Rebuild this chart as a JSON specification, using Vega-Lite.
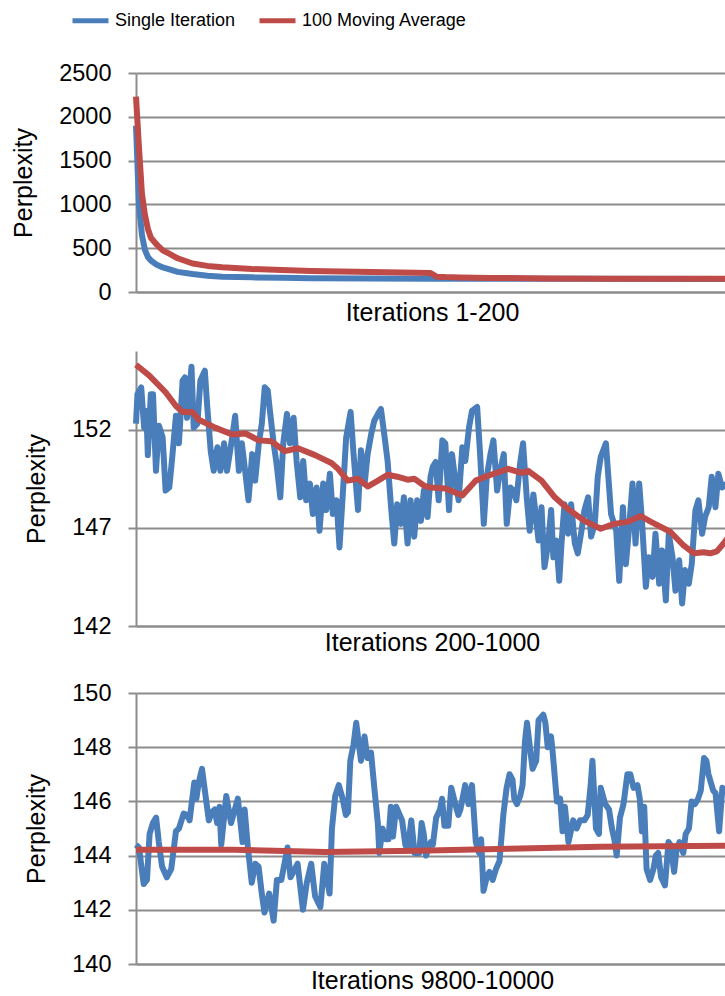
{
  "$schema": "https://vega.github.io/schema/vega-lite/v6.json",
  "padding": {"left": 11, "top": 0, "right": 0, "bottom": 0},
  "spacing": 26,
  "datasets": {
    "p1": [
      {"iter":1,"series":"Single Iteration","perplexity":1900},{"iter":2,"series":"Single Iteration","perplexity":1000},{"iter":3,"series":"Single Iteration","perplexity":650},{"iter":4,"series":"Single Iteration","perplexity":480},{"iter":5,"series":"Single Iteration","perplexity":400},{"iter":6,"series":"Single Iteration","perplexity":360},{"iter":8,"series":"Single Iteration","perplexity":310},{"iter":10,"series":"Single Iteration","perplexity":280},{"iter":12,"series":"Single Iteration","perplexity":260},{"iter":15,"series":"Single Iteration","perplexity":230},{"iter":20,"series":"Single Iteration","perplexity":205},{"iter":25,"series":"Single Iteration","perplexity":185},{"iter":30,"series":"Single Iteration","perplexity":175},{"iter":40,"series":"Single Iteration","perplexity":167},{"iter":50,"series":"Single Iteration","perplexity":162},{"iter":60,"series":"Single Iteration","perplexity":158},{"iter":80,"series":"Single Iteration","perplexity":155},{"iter":100,"series":"Single Iteration","perplexity":152},{"iter":101,"series":"Single Iteration","perplexity":150},{"iter":120,"series":"Single Iteration","perplexity":150},{"iter":150,"series":"Single Iteration","perplexity":150},{"iter":200,"series":"Single Iteration","perplexity":149},
      {"iter":1,"series":"100 Moving Average","perplexity":2230},{"iter":2,"series":"100 Moving Average","perplexity":1650},{"iter":3,"series":"100 Moving Average","perplexity":1120},{"iter":4,"series":"100 Moving Average","perplexity":880},{"iter":5,"series":"100 Moving Average","perplexity":720},{"iter":6,"series":"100 Moving Average","perplexity":620},{"iter":8,"series":"100 Moving Average","perplexity":540},{"iter":10,"series":"100 Moving Average","perplexity":475},{"iter":12,"series":"100 Moving Average","perplexity":440},{"iter":15,"series":"100 Moving Average","perplexity":385},{"iter":20,"series":"100 Moving Average","perplexity":325},{"iter":25,"series":"100 Moving Average","perplexity":298},{"iter":30,"series":"100 Moving Average","perplexity":282},{"iter":40,"series":"100 Moving Average","perplexity":262},{"iter":50,"series":"100 Moving Average","perplexity":250},{"iter":60,"series":"100 Moving Average","perplexity":240},{"iter":70,"series":"100 Moving Average","perplexity":233},{"iter":80,"series":"100 Moving Average","perplexity":227},{"iter":90,"series":"100 Moving Average","perplexity":222},{"iter":100,"series":"100 Moving Average","perplexity":217},{"iter":102,"series":"100 Moving Average","perplexity":175},{"iter":105,"series":"100 Moving Average","perplexity":170},{"iter":110,"series":"100 Moving Average","perplexity":166},{"iter":120,"series":"100 Moving Average","perplexity":161},{"iter":140,"series":"100 Moving Average","perplexity":155},{"iter":160,"series":"100 Moving Average","perplexity":152},{"iter":200,"series":"100 Moving Average","perplexity":151}
    ],
    "p2": [
      {"iter":200,"series":"Single Iteration","perplexity":152.3},{"iter":202,"series":"Single Iteration","perplexity":153.8},{"iter":207,"series":"Single Iteration","perplexity":154.15},{"iter":211,"series":"Single Iteration","perplexity":152.1},{"iter":214,"series":"Single Iteration","perplexity":152.95},{"iter":216,"series":"Single Iteration","perplexity":150.7},{"iter":220,"series":"Single Iteration","perplexity":153.8},{"iter":223,"series":"Single Iteration","perplexity":153.8},{"iter":227,"series":"Single Iteration","perplexity":149.9},{"iter":231,"series":"Single Iteration","perplexity":152.2},{"iter":236,"series":"Single Iteration","perplexity":151.6},{"iter":240,"series":"Single Iteration","perplexity":148.9},{"iter":245,"series":"Single Iteration","perplexity":149.05},{"iter":249,"series":"Single Iteration","perplexity":150.6},{"iter":254,"series":"Single Iteration","perplexity":152.7},{"iter":258,"series":"Single Iteration","perplexity":151.3},{"iter":263,"series":"Single Iteration","perplexity":154.5},{"iter":266,"series":"Single Iteration","perplexity":154.65},{"iter":269,"series":"Single Iteration","perplexity":152.6},{"iter":275,"series":"Single Iteration","perplexity":155.2},{"iter":278,"series":"Single Iteration","perplexity":152.1},{"iter":283,"series":"Single Iteration","perplexity":152.3},{"iter":287,"series":"Single Iteration","perplexity":154.5},{"iter":293,"series":"Single Iteration","perplexity":155.0},{"iter":296,"series":"Single Iteration","perplexity":153.3},{"iter":301,"series":"Single Iteration","perplexity":150.9},{"iter":305,"series":"Single Iteration","perplexity":149.9},{"iter":310,"series":"Single Iteration","perplexity":151.1},{"iter":314,"series":"Single Iteration","perplexity":149.9},{"iter":319,"series":"Single Iteration","perplexity":151.3},{"iter":323,"series":"Single Iteration","perplexity":149.9},{"iter":330,"series":"Single Iteration","perplexity":151.6},{"iter":334,"series":"Single Iteration","perplexity":152.7},{"iter":339,"series":"Single Iteration","perplexity":149.9},{"iter":343,"series":"Single Iteration","perplexity":151.3},{"iter":348,"series":"Single Iteration","perplexity":149.75},{"iter":352,"series":"Single Iteration","perplexity":148.4},{"iter":357,"series":"Single Iteration","perplexity":150.75},{"iter":361,"series":"Single Iteration","perplexity":149.4},{"iter":366,"series":"Single Iteration","perplexity":151.3},{"iter":370,"series":"Single Iteration","perplexity":152.3},{"iter":374,"series":"Single Iteration","perplexity":154.15},{"iter":378,"series":"Single Iteration","perplexity":154.0},{"iter":381,"series":"Single Iteration","perplexity":152.95},{"iter":386,"series":"Single Iteration","perplexity":151.3},{"iter":390,"series":"Single Iteration","perplexity":150.25},{"iter":395,"series":"Single Iteration","perplexity":148.55},{"iter":399,"series":"Single Iteration","perplexity":151.3},{"iter":404,"series":"Single Iteration","perplexity":152.8},{"iter":408,"series":"Single Iteration","perplexity":151.3},{"iter":413,"series":"Single Iteration","perplexity":152.6},{"iter":417,"series":"Single Iteration","perplexity":150.4},{"iter":422,"series":"Single Iteration","perplexity":148.55},{"iter":426,"series":"Single Iteration","perplexity":150.4},{"iter":430,"series":"Single Iteration","perplexity":148.4},{"iter":435,"series":"Single Iteration","perplexity":149.25},{"iter":439,"series":"Single Iteration","perplexity":147.7},{"iter":444,"series":"Single Iteration","perplexity":149.05},{"iter":448,"series":"Single Iteration","perplexity":146.85},{"iter":453,"series":"Single Iteration","perplexity":149.25},{"iter":457,"series":"Single Iteration","perplexity":147.9},{"iter":462,"series":"Single Iteration","perplexity":149.75},{"iter":466,"series":"Single Iteration","perplexity":147.7},{"iter":471,"series":"Single Iteration","perplexity":148.4},{"iter":475,"series":"Single Iteration","perplexity":146.0},{"iter":480,"series":"Single Iteration","perplexity":149.05},{"iter":484,"series":"Single Iteration","perplexity":151.6},{"iter":490,"series":"Single Iteration","perplexity":152.9},{"iter":494,"series":"Single Iteration","perplexity":150.75},{"iter":500,"series":"Single Iteration","perplexity":147.9},{"iter":504,"series":"Single Iteration","perplexity":150.95},{"iter":509,"series":"Single Iteration","perplexity":149.25},{"iter":513,"series":"Single Iteration","perplexity":150.75},{"iter":518,"series":"Single Iteration","perplexity":151.8},{"iter":522,"series":"Single Iteration","perplexity":152.45},{"iter":527,"series":"Single Iteration","perplexity":152.8},{"iter":531,"series":"Single Iteration","perplexity":153.05},{"iter":536,"series":"Single Iteration","perplexity":151.6},{"iter":540,"series":"Single Iteration","perplexity":150.4},{"iter":545,"series":"Single Iteration","perplexity":147.9},{"iter":549,"series":"Single Iteration","perplexity":146.2},{"iter":553,"series":"Single Iteration","perplexity":148.2},{"iter":558,"series":"Single Iteration","perplexity":147.2},{"iter":562,"series":"Single Iteration","perplexity":148.55},{"iter":567,"series":"Single Iteration","perplexity":146.2},{"iter":571,"series":"Single Iteration","perplexity":148.4},{"iter":576,"series":"Single Iteration","perplexity":146.55},{"iter":580,"series":"Single Iteration","perplexity":148.4},{"iter":585,"series":"Single Iteration","perplexity":147.35},{"iter":589,"series":"Single Iteration","perplexity":148.9},{"iter":594,"series":"Single Iteration","perplexity":147.55},{"iter":598,"series":"Single Iteration","perplexity":149.6},{"iter":601,"series":"Single Iteration","perplexity":150.1},{"iter":605,"series":"Single Iteration","perplexity":150.35},{"iter":609,"series":"Single Iteration","perplexity":148.4},{"iter":614,"series":"Single Iteration","perplexity":151.45},{"iter":618,"series":"Single Iteration","perplexity":151.3},{"iter":623,"series":"Single Iteration","perplexity":147.9},{"iter":627,"series":"Single Iteration","perplexity":150.75},{"iter":632,"series":"Single Iteration","perplexity":149.25},{"iter":636,"series":"Single Iteration","perplexity":148.4},{"iter":641,"series":"Single Iteration","perplexity":151.1},{"iter":645,"series":"Single Iteration","perplexity":150.4},{"iter":650,"series":"Single Iteration","perplexity":152.1},{"iter":654,"series":"Single Iteration","perplexity":152.95},{"iter":661,"series":"Single Iteration","perplexity":153.15},{"iter":665,"series":"Single Iteration","perplexity":150.75},{"iter":670,"series":"Single Iteration","perplexity":147.2},{"iter":674,"series":"Single Iteration","perplexity":149.6},{"iter":679,"series":"Single Iteration","perplexity":150.75},{"iter":683,"series":"Single Iteration","perplexity":151.45},{"iter":688,"series":"Single Iteration","perplexity":148.9},{"iter":692,"series":"Single Iteration","perplexity":149.9},{"iter":697,"series":"Single Iteration","perplexity":150.75},{"iter":701,"series":"Single Iteration","perplexity":147.2},{"iter":706,"series":"Single Iteration","perplexity":149.05},{"iter":710,"series":"Single Iteration","perplexity":148.9},{"iter":714,"series":"Single Iteration","perplexity":148.4},{"iter":719,"series":"Single Iteration","perplexity":150.25},{"iter":723,"series":"Single Iteration","perplexity":151.3},{"iter":728,"series":"Single Iteration","perplexity":148.55},{"iter":732,"series":"Single Iteration","perplexity":146.85},{"iter":737,"series":"Single Iteration","perplexity":148.7},{"iter":744,"series":"Single Iteration","perplexity":146.35},{"iter":748,"series":"Single Iteration","perplexity":148.05},{"iter":752,"series":"Single Iteration","perplexity":145.0},{"iter":757,"series":"Single Iteration","perplexity":146.2},{"iter":761,"series":"Single Iteration","perplexity":147.9},{"iter":764,"series":"Single Iteration","perplexity":145.5},{"iter":768,"series":"Single Iteration","perplexity":146.35},{"iter":772,"series":"Single Iteration","perplexity":144.3},{"iter":775,"series":"Single Iteration","perplexity":146.2},{"iter":779,"series":"Single Iteration","perplexity":148.2},{"iter":784,"series":"Single Iteration","perplexity":146.7},{"iter":788,"series":"Single Iteration","perplexity":148.2},{"iter":793,"series":"Single Iteration","perplexity":146.2},{"iter":797,"series":"Single Iteration","perplexity":145.7},{"iter":802,"series":"Single Iteration","perplexity":146.85},{"iter":806,"series":"Single Iteration","perplexity":147.9},{"iter":811,"series":"Single Iteration","perplexity":148.55},{"iter":815,"series":"Single Iteration","perplexity":146.55},{"iter":820,"series":"Single Iteration","perplexity":147.2},{"iter":824,"series":"Single Iteration","perplexity":149.6},{"iter":828,"series":"Single Iteration","perplexity":150.6},{"iter":835,"series":"Single Iteration","perplexity":151.3},{"iter":842,"series":"Single Iteration","perplexity":147.7},{"iter":849,"series":"Single Iteration","perplexity":146.85},{"iter":853,"series":"Single Iteration","perplexity":144.3},{"iter":858,"series":"Single Iteration","perplexity":148.05},{"iter":862,"series":"Single Iteration","perplexity":145.15},{"iter":866,"series":"Single Iteration","perplexity":146.85},{"iter":871,"series":"Single Iteration","perplexity":149.25},{"iter":875,"series":"Single Iteration","perplexity":146.2},{"iter":880,"series":"Single Iteration","perplexity":149.25},{"iter":884,"series":"Single Iteration","perplexity":147.2},{"iter":889,"series":"Single Iteration","perplexity":144.0},{"iter":893,"series":"Single Iteration","perplexity":145.5},{"iter":898,"series":"Single Iteration","perplexity":144.5},{"iter":902,"series":"Single Iteration","perplexity":146.7},{"iter":907,"series":"Single Iteration","perplexity":144.15},{"iter":911,"series":"Single Iteration","perplexity":145.85},{"iter":916,"series":"Single Iteration","perplexity":143.3},{"iter":920,"series":"Single Iteration","perplexity":146.7},{"iter":925,"series":"Single Iteration","perplexity":145.5},{"iter":929,"series":"Single Iteration","perplexity":143.8},{"iter":934,"series":"Single Iteration","perplexity":145.35},{"iter":938,"series":"Single Iteration","perplexity":143.15},{"iter":942,"series":"Single Iteration","perplexity":144.85},{"iter":947,"series":"Single Iteration","perplexity":144.15},{"iter":951,"series":"Single Iteration","perplexity":145.15},{"iter":956,"series":"Single Iteration","perplexity":147.9},{"iter":960,"series":"Single Iteration","perplexity":148.4},{"iter":965,"series":"Single Iteration","perplexity":146.7},{"iter":969,"series":"Single Iteration","perplexity":147.55},{"iter":974,"series":"Single Iteration","perplexity":148.05},{"iter":978,"series":"Single Iteration","perplexity":149.6},{"iter":983,"series":"Single Iteration","perplexity":148.05},{"iter":987,"series":"Single Iteration","perplexity":149.75},{"iter":992,"series":"Single Iteration","perplexity":149.05},{"iter":1000,"series":"Single Iteration","perplexity":149.3},
      {"iter":200,"series":"100 Moving Average","perplexity":155.3},{"iter":218,"series":"100 Moving Average","perplexity":154.75},{"iter":240,"series":"100 Moving Average","perplexity":153.9},{"iter":254,"series":"100 Moving Average","perplexity":153.2},{"iter":263,"series":"100 Moving Average","perplexity":152.9},{"iter":276,"series":"100 Moving Average","perplexity":152.9},{"iter":285,"series":"100 Moving Average","perplexity":152.5},{"iter":307,"series":"100 Moving Average","perplexity":152.1},{"iter":330,"series":"100 Moving Average","perplexity":151.75},{"iter":348,"series":"100 Moving Average","perplexity":151.8},{"iter":366,"series":"100 Moving Average","perplexity":151.45},{"iter":383,"series":"100 Moving Average","perplexity":151.4},{"iter":401,"series":"100 Moving Average","perplexity":150.9},{"iter":419,"series":"100 Moving Average","perplexity":151.05},{"iter":442,"series":"100 Moving Average","perplexity":150.7},{"iter":464,"series":"100 Moving Average","perplexity":150.3},{"iter":473,"series":"100 Moving Average","perplexity":150.0},{"iter":486,"series":"100 Moving Average","perplexity":149.4},{"iter":500,"series":"100 Moving Average","perplexity":149.5},{"iter":513,"series":"100 Moving Average","perplexity":149.1},{"iter":527,"series":"100 Moving Average","perplexity":149.4},{"iter":540,"series":"100 Moving Average","perplexity":149.7},{"iter":553,"series":"100 Moving Average","perplexity":149.6},{"iter":567,"series":"100 Moving Average","perplexity":149.45},{"iter":576,"series":"100 Moving Average","perplexity":149.5},{"iter":589,"series":"100 Moving Average","perplexity":149.15},{"iter":598,"series":"100 Moving Average","perplexity":149.05},{"iter":618,"series":"100 Moving Average","perplexity":149.0},{"iter":641,"series":"100 Moving Average","perplexity":148.65},{"iter":659,"series":"100 Moving Average","perplexity":149.4},{"iter":672,"series":"100 Moving Average","perplexity":149.6},{"iter":703,"series":"100 Moving Average","perplexity":150.0},{"iter":721,"series":"100 Moving Average","perplexity":149.8},{"iter":730,"series":"100 Moving Average","perplexity":149.9},{"iter":748,"series":"100 Moving Average","perplexity":149.4},{"iter":766,"series":"100 Moving Average","perplexity":148.55},{"iter":784,"series":"100 Moving Average","perplexity":147.95},{"iter":806,"series":"100 Moving Average","perplexity":147.35},{"iter":828,"series":"100 Moving Average","perplexity":146.95},{"iter":846,"series":"100 Moving Average","perplexity":147.2},{"iter":864,"series":"100 Moving Average","perplexity":147.3},{"iter":882,"series":"100 Moving Average","perplexity":147.6},{"iter":896,"series":"100 Moving Average","perplexity":147.3},{"iter":922,"series":"100 Moving Average","perplexity":146.8},{"iter":940,"series":"100 Moving Average","perplexity":146.1},{"iter":954,"series":"100 Moving Average","perplexity":145.7},{"iter":967,"series":"100 Moving Average","perplexity":145.75},{"iter":976,"series":"100 Moving Average","perplexity":145.7},{"iter":985,"series":"100 Moving Average","perplexity":145.8},{"iter":994,"series":"100 Moving Average","perplexity":146.2},{"iter":1000,"series":"100 Moving Average","perplexity":146.5}
    ],
    "p3": [
      {"iter":9800.0,"series":"Single Iteration","perplexity":144.4},{"iter":9801.0,"series":"Single Iteration","perplexity":144.3},{"iter":9802.6,"series":"Single Iteration","perplexity":142.95},{"iter":9803.7,"series":"Single Iteration","perplexity":143.1},{"iter":9804.6,"series":"Single Iteration","perplexity":144.8},{"iter":9805.7,"series":"Single Iteration","perplexity":145.2},{"iter":9806.8,"series":"Single Iteration","perplexity":145.4},{"iter":9807.7,"series":"Single Iteration","perplexity":144.5},{"iter":9808.8,"series":"Single Iteration","perplexity":143.6},{"iter":9810.4,"series":"Single Iteration","perplexity":143.2},{"iter":9811.9,"series":"Single Iteration","perplexity":143.5},{"iter":9813.5,"series":"Single Iteration","perplexity":144.9},{"iter":9814.5,"series":"Single Iteration","perplexity":145.0},{"iter":9816.1,"series":"Single Iteration","perplexity":145.55},{"iter":9817.3,"series":"Single Iteration","perplexity":145.5},{"iter":9818.1,"series":"Single Iteration","perplexity":145.3},{"iter":9819.7,"series":"Single Iteration","perplexity":146.7},{"iter":9820.4,"series":"Single Iteration","perplexity":146.1},{"iter":9821.2,"series":"Single Iteration","perplexity":146.7},{"iter":9822.3,"series":"Single Iteration","perplexity":147.2},{"iter":9823.5,"series":"Single Iteration","perplexity":146.2},{"iter":9824.6,"series":"Single Iteration","perplexity":145.3},{"iter":9825.6,"series":"Single Iteration","perplexity":145.6},{"iter":9826.6,"series":"Single Iteration","perplexity":145.7},{"iter":9827.4,"series":"Single Iteration","perplexity":145.2},{"iter":9828.2,"series":"Single Iteration","perplexity":145.8},{"iter":9828.8,"series":"Single Iteration","perplexity":144.4},{"iter":9830.5,"series":"Single Iteration","perplexity":146.2},{"iter":9832.1,"series":"Single Iteration","perplexity":145.2},{"iter":9834.4,"series":"Single Iteration","perplexity":146.1},{"iter":9836.0,"series":"Single Iteration","perplexity":144.5},{"iter":9836.7,"series":"Single Iteration","perplexity":145.7},{"iter":9837.8,"series":"Single Iteration","perplexity":144.3},{"iter":9839.1,"series":"Single Iteration","perplexity":143.0},{"iter":9840.3,"series":"Single Iteration","perplexity":143.7},{"iter":9841.4,"series":"Single Iteration","perplexity":143.6},{"iter":9842.5,"series":"Single Iteration","perplexity":142.6},{"iter":9843.4,"series":"Single Iteration","perplexity":141.9},{"iter":9845.0,"series":"Single Iteration","perplexity":142.6},{"iter":9846.5,"series":"Single Iteration","perplexity":141.6},{"iter":9847.6,"series":"Single Iteration","perplexity":143.1},{"iter":9849.1,"series":"Single Iteration","perplexity":143.1},{"iter":9851.2,"series":"Single Iteration","perplexity":144.3},{"iter":9852.2,"series":"Single Iteration","perplexity":143.2},{"iter":9854.6,"series":"Single Iteration","perplexity":143.7},{"iter":9856.4,"series":"Single Iteration","perplexity":142.0},{"iter":9857.7,"series":"Single Iteration","perplexity":143.0},{"iter":9859.2,"series":"Single Iteration","perplexity":143.7},{"iter":9860.5,"series":"Single Iteration","perplexity":142.5},{"iter":9862.3,"series":"Single Iteration","perplexity":142.1},{"iter":9863.6,"series":"Single Iteration","perplexity":143.7},{"iter":9865.4,"series":"Single Iteration","perplexity":142.6},{"iter":9866.2,"series":"Single Iteration","perplexity":145.0},{"iter":9867.3,"series":"Single Iteration","perplexity":146.2},{"iter":9868.5,"series":"Single Iteration","perplexity":146.6},{"iter":9869.8,"series":"Single Iteration","perplexity":146.1},{"iter":9870.9,"series":"Single Iteration","perplexity":145.5},{"iter":9871.6,"series":"Single Iteration","perplexity":145.6},{"iter":9872.4,"series":"Single Iteration","perplexity":147.5},{"iter":9873.5,"series":"Single Iteration","perplexity":148.1},{"iter":9874.4,"series":"Single Iteration","perplexity":148.9},{"iter":9876.0,"series":"Single Iteration","perplexity":147.5},{"iter":9877.2,"series":"Single Iteration","perplexity":148.4},{"iter":9878.2,"series":"Single Iteration","perplexity":147.6},{"iter":9879.4,"series":"Single Iteration","perplexity":147.8},{"iter":9880.6,"series":"Single Iteration","perplexity":146.4},{"iter":9881.7,"series":"Single Iteration","perplexity":145.2},{"iter":9882.2,"series":"Single Iteration","perplexity":144.1},{"iter":9883.3,"series":"Single Iteration","perplexity":145.0},{"iter":9884.4,"series":"Single Iteration","perplexity":144.6},{"iter":9885.3,"series":"Single Iteration","perplexity":144.6},{"iter":9886.1,"series":"Single Iteration","perplexity":145.8},{"iter":9886.8,"series":"Single Iteration","perplexity":144.7},{"iter":9887.9,"series":"Single Iteration","perplexity":145.8},{"iter":9889.9,"series":"Single Iteration","perplexity":145.3},{"iter":9891.0,"series":"Single Iteration","perplexity":144.4},{"iter":9891.8,"series":"Single Iteration","perplexity":144.2},{"iter":9893.0,"series":"Single Iteration","perplexity":145.3},{"iter":9894.1,"series":"Single Iteration","perplexity":144.1},{"iter":9895.7,"series":"Single Iteration","perplexity":144.1},{"iter":9896.5,"series":"Single Iteration","perplexity":145.2},{"iter":9897.2,"series":"Single Iteration","perplexity":144.8},{"iter":9898.0,"series":"Single Iteration","perplexity":144.0},{"iter":9899.6,"series":"Single Iteration","perplexity":144.5},{"iter":9900.3,"series":"Single Iteration","perplexity":144.4},{"iter":9901.4,"series":"Single Iteration","perplexity":145.4},{"iter":9902.7,"series":"Single Iteration","perplexity":145.7},{"iter":9903.4,"series":"Single Iteration","perplexity":146.1},{"iter":9904.2,"series":"Single Iteration","perplexity":145.1},{"iter":9905.5,"series":"Single Iteration","perplexity":145.1},{"iter":9906.5,"series":"Single Iteration","perplexity":146.5},{"iter":9908.1,"series":"Single Iteration","perplexity":145.8},{"iter":9908.9,"series":"Single Iteration","perplexity":145.5},{"iter":9909.6,"series":"Single Iteration","perplexity":145.7},{"iter":9911.2,"series":"Single Iteration","perplexity":146.6},{"iter":9912.3,"series":"Single Iteration","perplexity":145.9},{"iter":9913.5,"series":"Single Iteration","perplexity":146.6},{"iter":9914.8,"series":"Single Iteration","perplexity":144.5},{"iter":9915.9,"series":"Single Iteration","perplexity":144.1},{"iter":9916.6,"series":"Single Iteration","perplexity":144.6},{"iter":9917.4,"series":"Single Iteration","perplexity":142.7},{"iter":9918.5,"series":"Single Iteration","perplexity":143.2},{"iter":9919.4,"series":"Single Iteration","perplexity":143.4},{"iter":9920.5,"series":"Single Iteration","perplexity":143.1},{"iter":9921.6,"series":"Single Iteration","perplexity":143.5},{"iter":9922.8,"series":"Single Iteration","perplexity":143.8},{"iter":9924.1,"series":"Single Iteration","perplexity":145.5},{"iter":9925.2,"series":"Single Iteration","perplexity":146.5},{"iter":9926.2,"series":"Single Iteration","perplexity":147.0},{"iter":9927.2,"series":"Single Iteration","perplexity":146.8},{"iter":9927.8,"series":"Single Iteration","perplexity":146.1},{"iter":9928.7,"series":"Single Iteration","perplexity":145.9},{"iter":9929.8,"series":"Single Iteration","perplexity":146.2},{"iter":9930.6,"series":"Single Iteration","perplexity":146.6},{"iter":9931.4,"series":"Single Iteration","perplexity":148.2},{"iter":9932.1,"series":"Single Iteration","perplexity":148.9},{"iter":9933.4,"series":"Single Iteration","perplexity":147.7},{"iter":9934.0,"series":"Single Iteration","perplexity":147.2},{"iter":9935.2,"series":"Single Iteration","perplexity":147.5},{"iter":9936.0,"series":"Single Iteration","perplexity":149.0},{"iter":9937.6,"series":"Single Iteration","perplexity":149.2},{"iter":9938.3,"series":"Single Iteration","perplexity":148.9},{"iter":9939.1,"series":"Single Iteration","perplexity":148.0},{"iter":9940.2,"series":"Single Iteration","perplexity":148.4},{"iter":9940.7,"series":"Single Iteration","perplexity":147.9},{"iter":9942.2,"series":"Single Iteration","perplexity":146.0},{"iter":9943.3,"series":"Single Iteration","perplexity":146.1},{"iter":9944.1,"series":"Single Iteration","perplexity":144.9},{"iter":9944.9,"series":"Single Iteration","perplexity":145.8},{"iter":9946.1,"series":"Single Iteration","perplexity":144.5},{"iter":9947.7,"series":"Single Iteration","perplexity":145.3},{"iter":9948.9,"series":"Single Iteration","perplexity":145.0},{"iter":9950.0,"series":"Single Iteration","perplexity":145.3},{"iter":9951.5,"series":"Single Iteration","perplexity":145.3},{"iter":9952.6,"series":"Single Iteration","perplexity":145.5},{"iter":9953.6,"series":"Single Iteration","perplexity":146.6},{"iter":9954.2,"series":"Single Iteration","perplexity":147.5},{"iter":9955.4,"series":"Single Iteration","perplexity":145.0},{"iter":9956.4,"series":"Single Iteration","perplexity":144.8},{"iter":9957.0,"series":"Single Iteration","perplexity":146.5},{"iter":9958.5,"series":"Single Iteration","perplexity":145.9},{"iter":9959.8,"series":"Single Iteration","perplexity":145.7},{"iter":9960.8,"series":"Single Iteration","perplexity":145.0},{"iter":9961.6,"series":"Single Iteration","perplexity":144.6},{"iter":9962.4,"series":"Single Iteration","perplexity":144.0},{"iter":9963.5,"series":"Single Iteration","perplexity":145.4},{"iter":9964.7,"series":"Single Iteration","perplexity":145.9},{"iter":9966.0,"series":"Single Iteration","perplexity":147.0},{"iter":9967.0,"series":"Single Iteration","perplexity":147.0},{"iter":9968.1,"series":"Single Iteration","perplexity":146.5},{"iter":9969.4,"series":"Single Iteration","perplexity":146.6},{"iter":9970.2,"series":"Single Iteration","perplexity":146.1},{"iter":9970.9,"series":"Single Iteration","perplexity":144.9},{"iter":9971.7,"series":"Single Iteration","perplexity":145.8},{"iter":9972.5,"series":"Single Iteration","perplexity":143.5},{"iter":9973.7,"series":"Single Iteration","perplexity":143.1},{"iter":9974.8,"series":"Single Iteration","perplexity":143.5},{"iter":9975.6,"series":"Single Iteration","perplexity":144.0},{"iter":9976.4,"series":"Single Iteration","perplexity":144.1},{"iter":9977.4,"series":"Single Iteration","perplexity":143.2},{"iter":9978.7,"series":"Single Iteration","perplexity":142.9},{"iter":9979.9,"series":"Single Iteration","perplexity":144.5},{"iter":9980.6,"series":"Single Iteration","perplexity":144.4},{"iter":9981.8,"series":"Single Iteration","perplexity":143.4},{"iter":9982.6,"series":"Single Iteration","perplexity":144.2},{"iter":9983.6,"series":"Single Iteration","perplexity":144.5},{"iter":9984.9,"series":"Single Iteration","perplexity":144.1},{"iter":9985.7,"series":"Single Iteration","perplexity":144.8},{"iter":9986.8,"series":"Single Iteration","perplexity":145.0},{"iter":9987.7,"series":"Single Iteration","perplexity":146.0},{"iter":9988.8,"series":"Single Iteration","perplexity":145.9},{"iter":9989.9,"series":"Single Iteration","perplexity":146.1},{"iter":9990.8,"series":"Single Iteration","perplexity":146.4},{"iter":9991.9,"series":"Single Iteration","perplexity":147.6},{"iter":9992.7,"series":"Single Iteration","perplexity":147.5},{"iter":9993.4,"series":"Single Iteration","perplexity":147.0},{"iter":9995.0,"series":"Single Iteration","perplexity":146.4},{"iter":9995.8,"series":"Single Iteration","perplexity":146.3},{"iter":9997.0,"series":"Single Iteration","perplexity":144.9},{"iter":9998.1,"series":"Single Iteration","perplexity":146.5},{"iter":10000.0,"series":"Single Iteration","perplexity":146.3},
      {"iter":9800,"series":"100 Moving Average","perplexity":144.22},{"iter":9833,"series":"100 Moving Average","perplexity":144.22},{"iter":9864,"series":"100 Moving Average","perplexity":144.13},{"iter":9895,"series":"100 Moving Average","perplexity":144.18},{"iter":9926,"series":"100 Moving Average","perplexity":144.25},{"iter":9957,"series":"100 Moving Average","perplexity":144.33},{"iter":10000,"series":"100 Moving Average","perplexity":144.36}
    ]
  },
  "vconcat": [
    {
      "width": 592, "height": 219,
      "data": {"name": "p1"},
      "mark": {"type": "line", "strokeWidth": 6, "strokeJoin": "round"},
      "encoding": {
        "x": {"field": "iter", "type": "quantitative", "scale": {"domain": [1, 200], "nice": false, "zero": false}, "axis": {"title": "Iterations 1-200", "labels": false, "ticks": false, "grid": false, "titlePadding": 8}},
        "y": {"field": "perplexity", "type": "quantitative", "scale": {"domain": [0, 2500], "nice": false}, "axis": {"title": "Perplexity", "values": [0, 500, 1000, 1500, 2000, 2500], "format": "d"}},
        "color": {"field": "series", "type": "nominal", "scale": {"domain": ["Single Iteration", "100 Moving Average"], "range": ["#4a7ebb", "#be4b48"]}, "legend": {"title": null, "orient": "none", "direction": "horizontal", "legendX": -66, "legendY": -73}}
      }
    },
    {
      "width": 592, "height": 275,
      "data": {"name": "p2"},
      "mark": {"type": "line", "strokeWidth": 6, "strokeJoin": "round"},
      "encoding": {
        "x": {"field": "iter", "type": "quantitative", "scale": {"domain": [200, 1000], "nice": false, "zero": false}, "axis": {"title": "Iterations 200-1000", "labels": false, "ticks": false, "grid": false, "titlePadding": 4}},
        "y": {"field": "perplexity", "type": "quantitative", "scale": {"domain": [142, 156], "nice": false, "zero": false}, "axis": {"title": "Perplexity", "values": [142, 147, 152]}},
        "color": {"field": "series", "type": "nominal", "scale": {"domain": ["Single Iteration", "100 Moving Average"], "range": ["#4a7ebb", "#be4b48"]}}
      }
    },
    {
      "width": 592, "height": 271,
      "data": {"name": "p3"},
      "mark": {"type": "line", "strokeWidth": 6, "strokeJoin": "round"},
      "encoding": {
        "x": {"field": "iter", "type": "quantitative", "scale": {"domain": [9800, 10000], "nice": false, "zero": false}, "axis": {"title": "Iterations 9800-10000", "labels": false, "ticks": false, "grid": false, "titlePadding": 4}},
        "y": {"field": "perplexity", "type": "quantitative", "scale": {"domain": [140, 150], "nice": false, "zero": false}, "axis": {"title": "Perplexity", "values": [140, 142, 144, 146, 148, 150]}},
        "color": {"field": "series", "type": "nominal", "scale": {"domain": ["Single Iteration", "100 Moving Average"], "range": ["#4a7ebb", "#be4b48"]}}
      }
    }
  ],
  "config": {
    "view": {"stroke": null},
    "axis": {
      "domainColor": "#8c8c8c", "domainWidth": 2,
      "gridColor": "#8c8c8c", "gridWidth": 2, "gridOpacity": 1,
      "tickColor": "#8c8c8c", "tickWidth": 2, "tickSize": 8,
      "labelFont": "Liberation Sans", "labelFontSize": 23.5, "labelColor": "#000", "labelPadding": 17,
      "titleFont": "Liberation Sans", "titleFontSize": 25, "titleFontWeight": "normal", "titleColor": "#000"
    },
    "axisY": {"titlePadding": 22},
    "legend": {
      "symbolType": "stroke", "symbolStrokeWidth": 5, "symbolSize": 1296,
      "labelFont": "Liberation Sans", "labelFontSize": 18, "labelColor": "#000", "labelLimit": 0,
      "columnPadding": 13, "labelOffset": 4
    }
  }
}
